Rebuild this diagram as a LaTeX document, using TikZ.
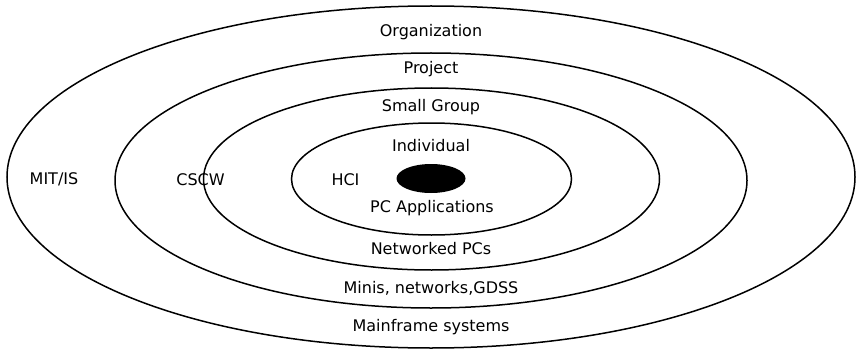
\documentclass[tikz,border=0pt]{standalone}
\usepackage{fontspec}
\setmainfont{DejaVu Sans}
\usepackage{tikz}
\usetikzlibrary{positioning}

\begin{document}
\begin{tikzpicture}[x=1pt,y=-1pt]
  % Styles
  \tikzstyle{ring}=[line width=1.5pt]
  \tikzstyle{label text}=[anchor=base,inner sep=0pt,font=\fontsize{16}{19}\selectfont]

  \useasboundingbox (0,0) rectangle (861,350);

  % The rings
  \coordinate (centre) at (431,178.5);
  \draw[style=ring] (431,177) ellipse (424pt and 171pt);
  \draw[style=ring] (431,180.5) ellipse (316pt and 127.5pt);
  \draw[style=ring] (431.5,179) ellipse (228pt and 91pt);
  \draw[style=ring] (431.5,179) ellipse (140pt and 56pt);
  \fill (centre) ellipse (34.5pt and 14.5pt);

  % Labels
  \node[label text] (org)   at (431,36.5)  {Organization};
  \node[label text] (proj)  at (431,74)    {Project};
  \node[label text] (group) at (431,112)   {Small Group};
  \node[label text] (indiv) at (431,151.5) {Individual};
  \node[label text] (pcapp) at (432,212)   {PC Applications};
  \node[label text] (netpc) at (431,254)   {Networked PCs};
  \node[label text] (minis) at (431,293)   {Minis, networks,GDSS};
  \node[label text] (main)  at (431,331)   {Mainframe systems};

  \node[label text] (mitis) at (54,184.5)  {MIT/IS};
  \node[label text] (cscw)  at (200.5,185) {CSCW};
  \node[label text] (hci)   at (345.5,185) {HCI};
\end{tikzpicture}
\end{document}
